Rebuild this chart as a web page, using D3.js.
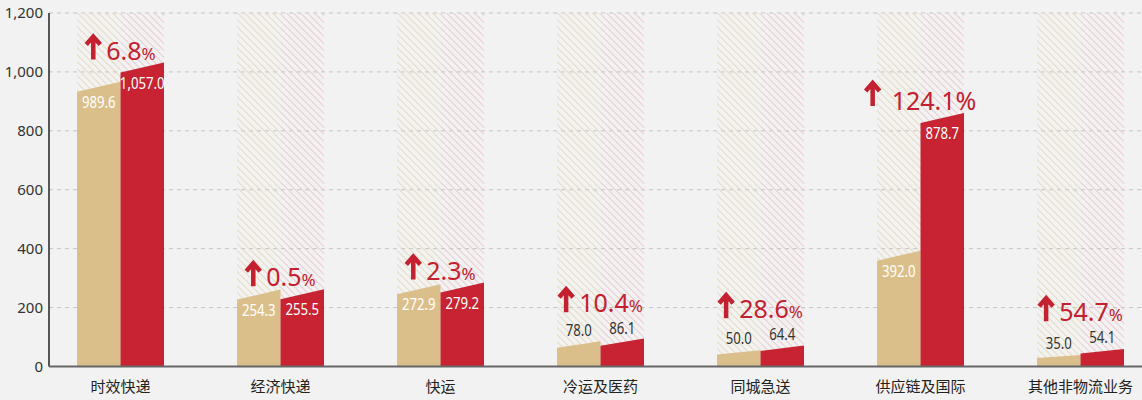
<!DOCTYPE html>
<html>
<head>
<meta charset="utf-8">
<script src="https://cdn.jsdelivr.net/npm/d3@7"></script>
<style>
  html, body { margin: 0; padding: 0; background: #f2f2f2; }
  #chart { width: 1142px; height: 400px; }
</style>
</head>
<body>
<div id="chart"></div>
<script>
/* Business segment revenue, previous vs current year, with growth rates */

const categories = ["时效快递", "经济快递", "快运", "冷运及医药", "同城急送", "供应链及国际", "其他非物流业务"];
const prevValues = [989.6, 254.3, 272.9, 78.0, 50.0, 392.0, 35.0];
const currValues = [1057.0, 255.5, 279.2, 86.1, 64.4, 878.7, 54.1];
const growthRates = ["6.8", "0.5", "2.3", "10.4", "28.6", "124.1", "54.7"];
const yTicks = [0, 200, 400, 600, 800, 1000, 1200];

const width = 1142,
      height = 400,
      margin = ({ top: 13, right: 0, bottom: 33, left: 49 });

const tan = "#dbbf8b",
      red = "#c82332",
      textRed = "#c42030";

let svg = d3.select("#chart")
    .append("svg")
    .attr("width", width)
    .attr("height", height)
    .attr("viewBox", [0, 0, width, height]);

// hatch patterns for the background columns
let defs = svg.append("defs");
function hatch(id, color) {
    let p = defs.append("pattern")
        .attr("id", id)
        .attr("patternUnits", "userSpaceOnUse")
        .attr("width", 7)
        .attr("height", 7);
    p.append("path")
        .attr("d", "M-2,5 L2,9 M0,0 L7,7 M5,-2 L9,2")
        .attr("stroke", color)
        .attr("stroke-width", 1);
}
hatch("hatchTan", "#e4d1a9");
hatch("hatchPink", "#e7bcc3");

// scales
let x = d3.scaleBand()
    .domain(categories)
    .range([40.5, 1160.5]);

let sub = d3.scaleBand()
    .domain(["prev", "curr"])
    .range([-43.5, 43.5]);

let y = d3.scaleLinear()
    .domain([0, 1200])
    .range([height - margin.bottom - 0.5, margin.top]);

// the bars in the original are drawn a little shorter than the axis says
let yBar = d3.scaleLinear()
    .domain([0, 1250])
    .range([y(0), y(1200)]);

// gridlines
svg.append("g")
    .selectAll("line")
    .data(yTicks.filter(d => d > 0))
    .join("line")
    .attr("x1", margin.left)
    .attr("x2", width)
    .attr("y1", d => y(d))
    .attr("y2", d => y(d))
    .attr("stroke", "#c4c4c4")
    .attr("stroke-dasharray", "4,4");

const data = categories.map((c, i) => ({
    cat: c,
    prev: prevValues[i],
    curr: currValues[i],
    growth: growthRates[i]
}));

let group = svg.selectAll(".cat")
    .data(data)
    .join("g")
    .attr("class", "cat")
    .attr("transform", d => `translate(${x(d.cat) + x.bandwidth() / 2},0)`);

// hatched columns behind the bars
group.append("rect")
    .attr("x", sub("prev"))
    .attr("width", sub.bandwidth())
    .attr("y", y(1200))
    .attr("height", y(0) - y(1200))
    .attr("fill", "url(#hatchTan)");

group.append("rect")
    .attr("x", sub("curr"))
    .attr("width", sub.bandwidth())
    .attr("y", y(1200))
    .attr("height", y(0) - y(1200))
    .attr("fill", "url(#hatchPink)");

// bars with slanted tops
function barPath(x0, w, v) {
    let top = yBar(v), h = yBar(0) - top;
    let s = Math.min(10, h * 0.3);
    return `M${x0},${yBar(0)} L${x0},${top + s / 2} L${x0 + w},${top - s / 2} L${x0 + w},${yBar(0)} Z`;
}

group.append("path")
    .attr("d", d => barPath(sub("prev"), sub.bandwidth(), d.prev))
    .attr("fill", tan);

group.append("path")
    .attr("d", d => barPath(sub("curr"), sub.bandwidth(), d.curr))
    .attr("fill", red);

// value labels: inside for tall bars, above for short ones
const inside = v => yBar(0) - yBar(v) > 40;
function addValue(key) {
    group.append("text")
        .attr("transform", d => {
            let ty = inside(d[key]) ? yBar(d[key]) + 21 : yBar(d[key]) - 8;
            return `translate(${sub(key) + sub.bandwidth() / 2},${ty}) scale(0.8,1)`;
        })
        .attr("text-anchor", "middle")
        .attr("font-family", "'Noto Sans', sans-serif")
        .attr("font-size", 16.5)
        .attr("fill", d => inside(d[key]) ? "#fff" : "#333")
        .text(d => d3.format(",.1f")(d[key]));
}
addValue("prev");
addValue("curr");

// growth labels with an up arrow
group.each(function (d) {
    let g = d3.select(this);
    let big = d.growth.length > 4;
    let base = inside(d.curr) ? yBar(d.curr) - 8 : yBar(d.curr) - 30;
    let ab = big ? base - 4 : base;  // arrow bottom
    let gap = big ? 27 : 21;
    let lab = g.append("g");
    lab.append("path")
        .attr("d", `M8,${ab} V${ab - 23} M1,${ab - 15} L8,${ab - 23} L15,${ab - 15}`)
        .attr("fill", "none")
        .attr("stroke", textRed)
        .attr("stroke-width", 4.5)
        .attr("stroke-linejoin", "miter");
    let t = lab.append("text")
        .attr("x", gap)
        .attr("y", base)
        .attr("font-family", "'Noto Sans', sans-serif")
        .attr("fill", textRed)
        .attr("font-size", 25);
    t.append("tspan").text(d.growth);
    t.append("tspan")
        .attr("font-size", big ? 25 : 17)
        .text("%");
    let w = gap + t.node().getComputedTextLength();
    lab.attr("transform", `translate(${-w / 2},0)`);
});

// y axis
svg.append("line")
    .attr("x1", margin.left)
    .attr("x2", margin.left)
    .attr("y1", y(1200))
    .attr("y2", y(0))
    .attr("stroke", "#222")
    .attr("stroke-width", 1.5);

svg.append("g")
    .selectAll("text")
    .data(yTicks)
    .join("text")
    .attr("x", 43)
    .attr("y", d => y(d) + 5)
    .attr("text-anchor", "end")
    .attr("font-family", "'Noto Sans', sans-serif")
    .attr("font-size", 15)
    .attr("fill", "#333")
    .text(d => d3.format(",")(d));

// baseline
svg.append("line")
    .attr("x1", margin.left)
    .attr("x2", width)
    .attr("y1", y(0))
    .attr("y2", y(0))
    .attr("stroke", "#666")
    .attr("stroke-width", 2);

// category labels
svg.append("g")
    .selectAll("text")
    .data(categories)
    .join("text")
    .attr("x", d => x(d) + x.bandwidth() / 2)
    .attr("y", 392)
    .attr("text-anchor", "middle")
    .attr("font-family", "'Noto Sans CJK SC', sans-serif")
    .attr("font-size", 15)
    .attr("fill", "#222")
    .text(d => d);
</script>
</body>
</html>
